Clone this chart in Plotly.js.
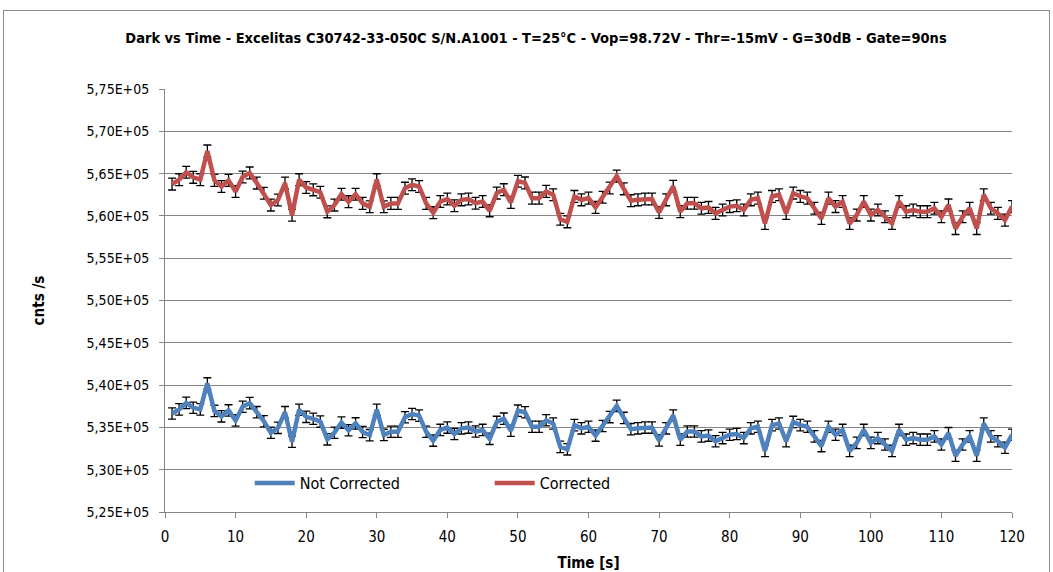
<!DOCTYPE html>
<html>
<head>
<meta charset="utf-8">
<script src="https://cdn.plot.ly/plotly-3.0.1.min.js"></script>
<style>
  html, body { margin: 0; padding: 0; background: #ffffff; }
  #wrap { position: relative; width: 1053px; height: 572px; overflow: hidden; }
  #chart { position: absolute; left: 0; top: 0; width: 1053px; height: 572px; }
  #frame { position: absolute; left: 3px; top: 10px; width: 1045px; height: 600px;
           border: 1px solid #8c8c8c; pointer-events: none; }
</style>
</head>
<body>
<div id="wrap">
  <div id="chart"></div>
  <div id="frame"></div>
</div>
<script>
// Time axis, seconds
const timeS = [];
for (let t = 1; t <= 120; t++) timeS.push(t);

// Dark count rate without correction (cnts/s)
const notCorrected = [
  536640, 537130, 537900, 537320, 537130, 540200, 536950, 536310, 537010, 535830,
  537440, 537870, 536800, 535730, 534370, 534950, 536800, 533300, 537090, 536250,
  536020, 535690, 533590, 534370, 535570, 534660, 535470, 534460, 534080, 537090,
  534110, 534490, 534490, 536200, 536580, 536390, 534490, 533440, 534700, 534980,
  534220, 534890, 534980, 534510, 534700, 533650, 535650, 536030, 534600, 536980,
  536790, 535080, 535080, 535840, 535460, 532700, 532410, 535270, 534890, 535080,
  534030, 535170, 536220, 537550, 536120, 534790, 534890, 534980, 534980, 533460,
  534890, 536410, 533550, 534510, 534510, 533940, 534030, 533360, 533740, 534130,
  534220, 533740, 534890, 535080, 532220, 535270, 535460, 533360, 535650, 535270,
  535080, 533940, 532790, 535080, 534130, 534700, 532220, 533170, 534700, 533170,
  533740, 532980, 532220, 534700, 533550, 533740, 533550, 533550, 533940, 532980,
  534320, 531650, 532980, 533940, 531650, 535460, 533940, 533360, 532600, 534130
];

// Dark count rate after correction (cnts/s)
const corrected = [
  563760, 564280, 565160, 564560, 564280, 567680, 564200, 563480, 564200, 562880,
  564600, 565080, 563880, 562680, 561280, 561880, 563880, 560080, 564280, 563360,
  563080, 562800, 560480, 561280, 562560, 561680, 562560, 561480, 561080, 564280,
  561080, 561480, 561480, 563280, 563680, 563480, 561480, 560380, 561700, 562000,
  561200, 561900, 562000, 561500, 561700, 560600, 562700, 563100, 561600, 564100,
  563900, 562100, 562100, 562900, 562500, 559600, 559300, 562300, 561900, 562100,
  561000, 562200, 563300, 564700, 563200, 561800, 561900, 562000, 562000, 560400,
  561900, 563500, 560500, 561500, 561500, 560900, 561000, 560300, 560700, 561100,
  561200, 560700, 561900, 562100, 559100, 562300, 562500, 560300, 562700, 562300,
  562100, 560900, 559700, 562100, 561100, 561700, 559100, 560100, 561700, 560100,
  560700, 559900, 559100, 561700, 560500, 560700, 560500, 560500, 560900, 559900,
  561300, 558500, 559900, 560900, 558500, 562500, 560900, 560300, 559500, 561100
];

// Uncertainty on each point (cnts/s)
const errNotCorrected = 670;
const errCorrected = 700;

// Axis ticks
const yTickVals = [525000, 530000, 535000, 540000, 545000, 550000, 555000, 560000, 565000, 570000, 575000];
const yTickText = ["5,25E+05", "5,30E+05", "5,35E+05", "5,40E+05", "5,45E+05", "5,50E+05",
                   "5,55E+05", "5,60E+05", "5,65E+05", "5,70E+05", "5,75E+05"];
const xTickVals = [0, 10, 20, 30, 40, 50, 60, 70, 80, 90, 100, 110, 120];

const FONT = "'Liberation Sans Narrow', 'DejaVu Sans Condensed', 'Arial Narrow', sans-serif";

function series(name, y, err, color) {
  return {
    type: "scatter",
    mode: "lines",
    name: name,
    x: timeS,
    y: y,
    line: { color: color, width: 4.5 },
    error_y: { type: "constant", value: err, visible: true, color: "#000000", thickness: 1.3, width: 4 }
  };
}

const data = [
  series("Not Corrected", notCorrected, errNotCorrected, "#4F81BD"),
  series("Corrected", corrected, errCorrected, "#C0504D")
];

const layout = {
  width: 1053,
  height: 572,
  margin: { l: 165, r: 41, t: 89, b: 60, pad: 0 },
  paper_bgcolor: "#ffffff",
  plot_bgcolor: "#ffffff",
  font: { family: FONT, size: 13, color: "#000000" },
  showlegend: true,
  title: {
    text: "<b>Dark vs Time - Excelitas C30742-33-050C S/N.A1001 - T=25°C - Vop=98.72V - Thr=-15mV - G=30dB - Gate=90ns</b>",
    font: { family: FONT, size: 14.5, color: "#000000" },
    x: 536 / 1053, xanchor: "center",
    y: 1 - 38 / 572, yanchor: "middle"
  },
  xaxis: {
    range: [0, 120],
    tickvals: xTickVals,
    ticks: "outside",
    ticklen: 5,
    tickcolor: "#868686",
    ticklabelstandoff: 6,
    tickfont: { family: FONT, size: 15, color: "#000000" },
    showline: true,
    linecolor: "#868686",
    linewidth: 1,
    showgrid: false,
    zeroline: false,
    title: { text: "<b>Time [s]</b>", font: { family: FONT, size: 15, color: "#000000" }, standoff: 14 }
  },
  yaxis: {
    range: [525000, 575000],
    tickvals: yTickVals,
    ticktext: yTickText,
    ticks: "outside",
    ticklen: 5,
    tickcolor: "#868686",
    ticklabelstandoff: 7,
    tickfont: { family: FONT, size: 14, color: "#000000" },
    showline: true,
    linecolor: "#868686",
    linewidth: 1,
    showgrid: true,
    gridcolor: "#868686",
    gridwidth: 1,
    zeroline: false,
    title: { text: "<b>cnts /s</b>", font: { family: FONT, size: 15, color: "#000000" }, standoff: 38 }
  },
  legend: {
    orientation: "h",
    x: 0.1, xanchor: "left",
    y: 29 / 423, yanchor: "middle",
    bgcolor: "rgba(0,0,0,0)",
    font: { family: FONT, size: 16, color: "#000000" },
    entrywidth: 185,
    entrywidthmode: "pixels",
    itemwidth: 40
  }
};

Plotly.newPlot("chart", data, layout, { staticPlot: true, displayModeBar: false });
</script>
</body>
</html>
